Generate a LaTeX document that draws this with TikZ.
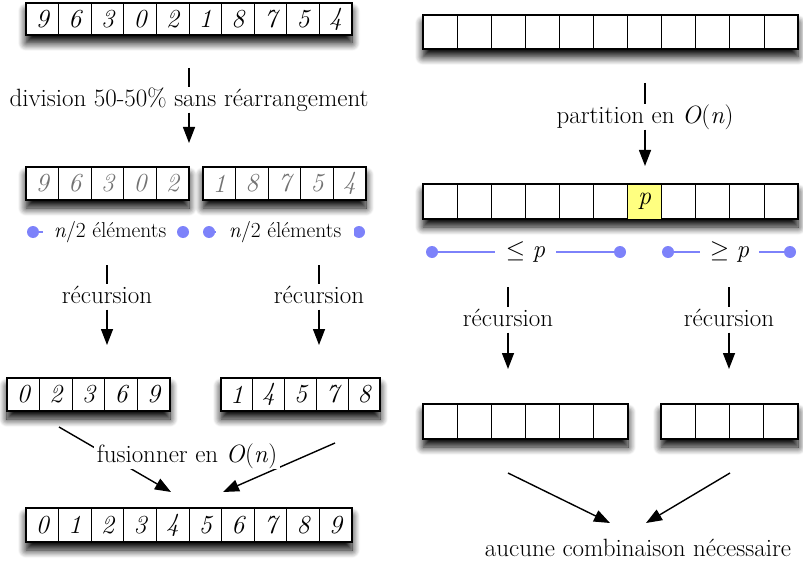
\documentclass[tikz,border=0pt]{standalone}
\usepackage{fontspec}
\usetikzlibrary{arrows.meta,shadows.blur}

\definecolor{dotblue}{RGB}{125,130,250}
\definecolor{pivot}{RGB}{255,255,128}
\definecolor{faded}{RGB}{115,115,115}

\tikzset{
  frame/.style={draw, line width=1.8pt, fill=white, inner sep=0pt, outer sep=0pt,
    anchor=north west,
    blur shadow={shadow xshift=0pt, shadow yshift=-8pt, shadow blur radius=8pt,
      shadow blur steps=10, shadow opacity=100}},
  cell/.style={draw, line width=1pt, inner sep=0pt, outer sep=0pt,
    font=\fontsize{26}{26}\selectfont\itshape},
  lbl/.style={font=\fontsize{25}{28}\selectfont, text height=17.5pt, text depth=4.5pt,
    inner xsep=3pt, inner ysep=1.5pt, fill=white},
  small/.style={font=\fontsize{21.5}{24}\selectfont, fill=white, inner sep=0pt,
    text height=15pt, text depth=4pt},
  feed/.style={line width=1.4pt},
  flow/.style={line width=1.4pt, -{Triangle[length=16pt,width=12pt]}},
  dot/.style={circle, fill=dotblue, minimum size=12pt, inner sep=0pt},
  span/.style={draw=dotblue, line width=1.3pt},
  pivotside/.style={fill=white, minimum height=33pt, inner sep=0pt,
    font=\fontsize{25}{28}\selectfont},
  R2 cell 7/.style={fill=pivot},
}

% #1 name, #2 number of cells, #3 left, #4 top, #5 cell width, #6 cell height, #7 contents
\newcommand\cellrow[7]{%
  \node[frame, minimum width={#2*#5pt}, minimum height=#6pt] (#1) at (#3,#4) {};
  \foreach \v [count=\i] in {#7} {
    \node[cell, #1 cell \i/.try, minimum width=#5pt, minimum height=#6pt]
      (#1-\i) at ({#3+(\i-0.5)*#5}, {#4+#6/2}) {\v};
  }%
}

\begin{document}
\begin{tikzpicture}[x=1pt, y=-1pt]
\useasboundingbox (0,0) rectangle (803,567);

% ---------- merge sort ----------
\cellrow{A}{10}{26}{3}{32.6}{32}{9,6,3,0,2,1,8,7,5,4}
\begin{scope}[cell/.append style={text=faded}]
  \cellrow{L}{5}{26}{167}{32.6}{33}{9,6,3,0,2}
  \cellrow{R}{5}{203}{167}{32.6}{33}{1,8,7,5,4}
\end{scope}
\cellrow{LS}{5}{7}{378}{32.6}{33}{0,2,3,6,9}
\cellrow{RS}{5}{221}{378}{31.8}{33}{1,4,5,7,8}
\cellrow{M}{10}{26}{508}{32.6}{34}{0,1,2,3,4,5,6,7,8,9}

\node[lbl] (split) at (189,100) {division 50-50\% sans réarrangement};
\coordinate (splitIn) at (189,68);
\coordinate (splitOut) at (189,143);
\draw[feed] (splitIn) -- (split);
\draw[flow] (split) -- (splitOut);

% half sizes
\node[dot] (h1a) at (33,232) {};
\node[dot] (h1b) at (183,232) {};
\node[dot] (h2a) at (209,232) {};
\node[dot] (h2b) at (359,232) {};
\draw[span] (h1a) -- (h1b);
\draw[span] (h2a) -- (h2b);
\node[small, minimum width=134pt] (half1) at (110,232) {\textit{n}/2 éléments};
\node[small, minimum width=138pt] (half2) at (285,232) {\textit{n}/2 éléments};

% recursive calls
\node[lbl] (recL) at (107,297) {récursion};
\coordinate (recLIn) at (107,265);
\coordinate (recLOut) at (107,345);
\draw[feed] (recLIn) -- (recL);
\draw[flow] (recL) -- (recLOut);
\node[lbl] (recR) at (319,297) {récursion};
\coordinate (recRIn) at (319,265);
\coordinate (recROut) at (319,345);
\draw[feed] (recRIn) -- (recR);
\draw[flow] (recR) -- (recROut);

% merge
\coordinate (mgA) at (59,427);
\coordinate (mgATip) at (171,492);
\coordinate (mgB) at (335,443);
\coordinate (mgBTip) at (223,492);
\draw[flow] (mgA) -- (mgATip);
\draw[flow] (mgB) -- (mgBTip);
\node[lbl] (merge) at (187,456) {fusionner en \textit{O}(\textit{n})};

% ---------- quicksort ----------
\cellrow{Q}{11}{423}{15}{34.1}{34}{{},{},{},{},{},{},{},{},{},{},{}}
\cellrow{R2}{11}{423}{184}{34.1}{35}{{},{},{},{},{},{},p,{},{},{},{}}
\cellrow{QL}{6}{423}{404}{34.17}{35}{{},{},{},{},{},{}}
\cellrow{QR}{4}{661}{404}{34.25}{35}{{},{},{},{}}

\node[lbl] (part) at (645,117) {partition en \textit{O}(\textit{n})};
\coordinate (partIn) at (645,83);
\coordinate (partOut) at (645,166);
\draw[feed] (partIn) -- (part);
\draw[flow] (part) -- (partOut);

% sides of the pivot
\node[dot] (lo1) at (432,252) {};
\node[dot] (lo2) at (620,252) {};
\node[dot] (hi1) at (668,252) {};
\node[dot] (hi2) at (790,252) {};
\draw[span] (lo1) -- (lo2);
\draw[span] (hi1) -- (hi2);
\node[pivotside, minimum width=61pt] (lo) at (525.5,252) {$\leq$\ \textit{p}};
\node[pivotside, minimum width=59pt] (hi) at (729.5,252) {$\geq$\ \textit{p}};

\node[lbl] (recPL) at (508,320) {récursion};
\coordinate (recPLIn) at (508,287);
\coordinate (recPLOut) at (508,369);
\draw[feed] (recPLIn) -- (recPL);
\draw[flow] (recPL) -- (recPLOut);
\node[lbl] (recPR) at (729,320) {récursion};
\coordinate (recPRIn) at (729,287);
\coordinate (recPROut) at (729,369);
\draw[feed] (recPRIn) -- (recPR);
\draw[flow] (recPR) -- (recPROut);

\coordinate (jnA) at (508,473);
\coordinate (jnATip) at (610,523);
\coordinate (jnB) at (730,473);
\coordinate (jnBTip) at (646,523);
\draw[flow] (jnA) -- (jnATip);
\draw[flow] (jnB) -- (jnBTip);
\node[lbl] (none) at (638,550) {aucune combinaison nécessaire};
\end{tikzpicture}
\end{document}
